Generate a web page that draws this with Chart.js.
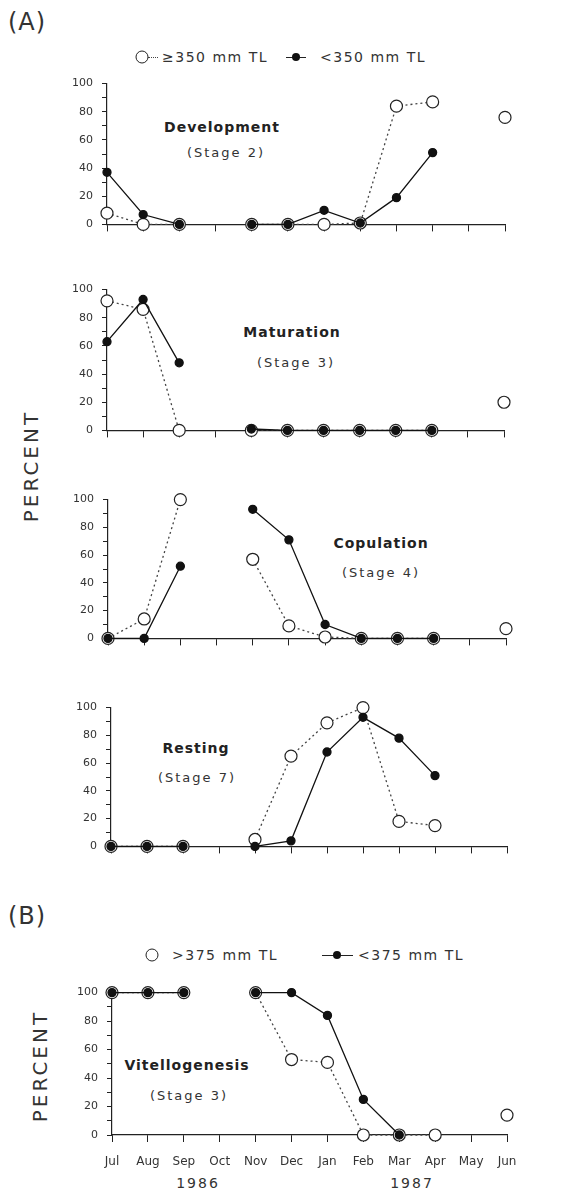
<!DOCTYPE html>
<html>
<head>
<meta charset="utf-8">
<script src="https://cdn.jsdelivr.net/npm/chart.js@4.4.1/dist/chart.umd.min.js"></script>
<style>
  html, body { margin: 0; padding: 0; background: #fff; }
  body { width: 570px; height: 1189px; position: relative; overflow: hidden;
         font-family: "DejaVu Sans", sans-serif; color: #222; }
  canvas.pane { position: absolute; left: 0; }
  .t { position: absolute; white-space: nowrap; transform: translate(-50%, -50%); }
  .tl { position: absolute; white-space: nowrap; transform: translateY(-50%); }
  .panel { font-size: 24px; letter-spacing: 1px; color: #333; }
  .title { font-size: 14px; font-weight: bold; letter-spacing: 1px; }
  .stage { font-size: 13px; letter-spacing: 2px; color: #333; }
  .leg { font-size: 14px; letter-spacing: 1.5px; color: #333; }
  .ylab { font-size: 20px; letter-spacing: 3px; color: #333; transform: translate(-50%, -50%) rotate(-90deg); }
  .year { font-size: 14px; letter-spacing: 2px; color: #333; }
  .ring { position: absolute; width: 11px; height: 11px; border: 1.2px solid #222; border-radius: 50%;
          transform: translate(-50%, -50%); background: #fff; }
  .dot { position: absolute; width: 8px; height: 8px; background: #111; border-radius: 50%;
         transform: translate(-50%, -50%); }
  .hline { position: absolute; height: 0; border-top: 1.3px solid #222; }
  .dline { position: absolute; height: 0; border-top: 1.3px dotted #444; }
</style>
</head>
<body>

<div class="t panel" style="left:27px; top:22px;">(A)</div>
<div class="t panel" style="left:27px; top:916px;">(B)</div>

<!-- legend (A) -->
<div class="dline" style="left:148px; top:57px; width:10px;"></div>
<div class="ring" style="left:142px; top:57px;"></div>
<div class="tl leg" style="left:162px; top:57px;">≥350 mm TL</div>
<div class="hline" style="left:286px; top:57px; width:20px;"></div>
<div class="dot" style="left:296px; top:57px;"></div>
<div class="tl leg" style="left:320px; top:57px;">&lt;350 mm TL</div>

<!-- legend (B) -->
<div class="ring" style="left:152px; top:955px;"></div>
<div class="tl leg" style="left:172px; top:955px;">&gt;375 mm TL</div>
<div class="hline" style="left:322px; top:955px; width:31px;"></div>
<div class="dot" style="left:337px; top:955px;"></div>
<div class="tl leg" style="left:358px; top:955px;">&lt;375 mm TL</div>

<div class="t ylab" style="left:31px; top:466px;">PERCENT</div>
<div class="t ylab" style="left:40px; top:1066px;">PERCENT</div>

<div class="t title" style="left:222px; top:127px;">Development</div>
<div class="t stage" style="left:226px; top:152px;">(Stage 2)</div>
<div class="t title" style="left:292px; top:332px;">Maturation</div>
<div class="t stage" style="left:296px; top:362px;">(Stage 3)</div>
<div class="t title" style="left:381px; top:543px;">Copulation</div>
<div class="t stage" style="left:381px; top:572px;">(Stage 4)</div>
<div class="t title" style="left:196px; top:748px;">Resting</div>
<div class="t stage" style="left:197px; top:777px;">(Stage 7)</div>
<div class="t title" style="left:187px; top:1065px;">Vitellogenesis</div>
<div class="t stage" style="left:189px; top:1095px;">(Stage 3)</div>

<div class="t year" style="left:198px; top:1183px;">1986</div>
<div class="t year" style="left:412px; top:1183px;">1987</div>

<canvas id="dev" class="pane"></canvas>
<canvas id="mat" class="pane"></canvas>
<canvas id="cop" class="pane"></canvas>
<canvas id="rest" class="pane"></canvas>
<canvas id="vit" class="pane"></canvas>

<script>
'use strict';

// Months, July 1986 to June 1987
var months = ['Jul', 'Aug', 'Sep', 'Oct', 'Nov', 'Dec', 'Jan', 'Feb', 'Mar', 'Apr', 'May', 'Jun'];

// (A) Development (Stage 2)
var devLarge = [8, 0, 0, null, 0, 0, 0, 1, 84, 87, null, 76];
var devSmall = [37, 7, 0, null, 0, 0, 10, 1, 19, 51, null, null];

// (A) Maturation (Stage 3)
var matLarge = [92, 86, 0, null, 0, 0, 0, 0, 0, 0, null, 20];
var matSmall = [63, 93, 48, null, 1, 0, 0, 0, 0, 0, null, null];

// (A) Copulation (Stage 4)
var copLarge = [0, 14, 100, null, 57, 9, 1, 0, 0, 0, null, 7];
var copSmall = [0, 0, 52, null, 93, 71, 10, 0, 0, 0, null, null];

// (A) Resting (Stage 7)
var restLarge = [0, 0, 0, null, 5, 65, 89, 100, 18, 15, null, null];
var restSmall = [0, 0, 0, null, 0, 4, 68, 93, 78, 51, null, null];

// (B) Vitellogenesis (Stage 3)
var vitLarge = [100, 100, 100, null, 100, 53, 51, 0, 0, 0, null, 14];
var vitSmall = [100, 100, 100, null, 100, 100, 84, 25, 0, null, null, null];

var ink = '#222';
var PAD_TOP = 15;

function makePanel(id, large, small, box) {
    var canvas = document.getElementById(id);
    var axisH = box.labels ? 45 : 12;
    var h = (box.bottom - box.top) + PAD_TOP + axisH;
    canvas.width = 570;
    canvas.height = h;
    canvas.style.top = (box.top - PAD_TOP) + 'px';

    return new Chart(canvas, {
        type: 'line',
        data: {
            labels: months,
            datasets: [
                {
                    label: 'small',
                    data: small,
                    borderColor: '#111',
                    borderWidth: 1.3,
                    pointRadius: 4,
                    pointBackgroundColor: '#111',
                    pointBorderColor: '#111',
                    tension: 0,
                    spanGaps: false,
                    clip: false
                },
                {
                    label: 'large',
                    data: large,
                    borderColor: '#444',
                    borderWidth: 1.3,
                    borderDash: [2, 3],
                    pointRadius: 6,
                    pointBorderWidth: 1.2,
                    pointBackgroundColor: '#fff',
                    pointBorderColor: ink,
                    tension: 0,
                    spanGaps: false,
                    clip: false
                }
            ]
        },
        options: {
            responsive: false,
            animation: false,
            layout: { padding: { top: PAD_TOP, left: 0, right: 570 - box.right, bottom: 0 } },
            plugins: { legend: { display: false }, tooltip: { enabled: false } },
            scales: {
                x: {
                    offset: false,
                    afterFit: function (s) { s.height = axisH; },
                    grid: { drawOnChartArea: false, drawTicks: true, tickLength: 7, color: ink },
                    border: { display: true, color: ink, width: 1.2 },
                    ticks: {
                        display: !!box.labels,
                        autoSkip: false,
                        maxRotation: 0,
                        padding: 13,
                        color: '#333',
                        font: { family: 'DejaVu Sans', size: 12 }
                    }
                },
                y: {
                    min: 0,
                    max: 100,
                    afterFit: function (s) { s.width = box.left; },
                    grid: { drawOnChartArea: false, drawTicks: true, tickLength: 5, color: ink },
                    border: { display: true, color: ink, width: 1.2, dash: box.solidY ? [] : [2, 2] },
                    ticks: {
                        stepSize: 10,
                        autoSkip: false,
                        padding: 9,
                        color: '#333',
                        font: { family: 'DejaVu Sans', size: 11 },
                        callback: function (v) { return v % 20 === 0 ? v : ''; }
                    }
                }
            }
        }
    });
}

makePanel('dev', devLarge, devSmall, { left: 107, right: 505, top: 83, bottom: 228 });
makePanel('mat', matLarge, matSmall, { left: 107, right: 504, top: 289, bottom: 434 });
makePanel('cop', copLarge, copSmall, { left: 108, right: 506, top: 499, bottom: 642 });
makePanel('rest', restLarge, restSmall, { left: 111, right: 507, top: 707, bottom: 850 });
makePanel('vit', vitLarge, vitSmall, { left: 112, right: 507, top: 992, bottom: 1135, labels: true, solidY: true });
</script>
</body>
</html>
